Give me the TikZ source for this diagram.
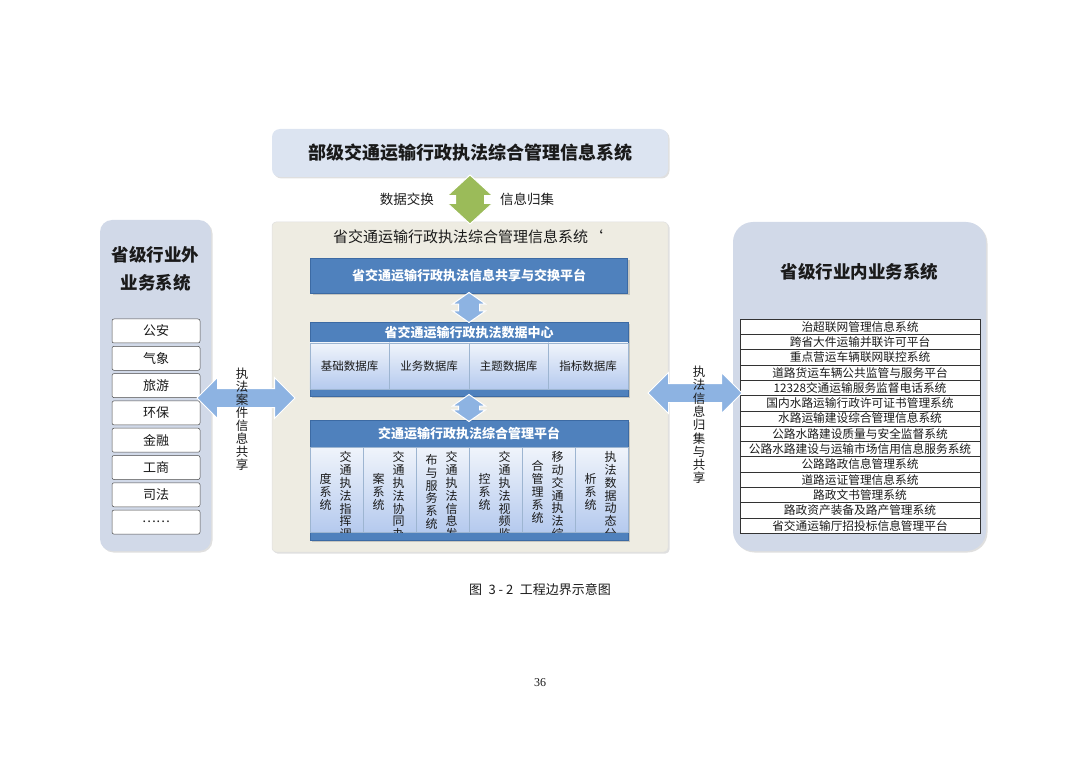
\documentclass[tikz,border=0pt]{standalone}
\usepackage{fontspec}
\setmainfont{Noto Sans CJK SC}
\newfontfamily\pagefont{Liberation Serif}
\usetikzlibrary{positioning, shapes.arrows, shadows, calc}
\definecolor{sysBlue}{HTML}{4F81BD}
\definecolor{sysBlueDark}{HTML}{3C6AA3}
\definecolor{sysPale}{HTML}{D1D9E8}
\definecolor{sysTop}{HTML}{DCE4F1}
\definecolor{sysTan}{HTML}{EEECE2}
\definecolor{sysArrow}{HTML}{8DB3E2}
\definecolor{sysGreen}{HTML}{9BBB59}
\definecolor{sysCellTop}{HTML}{F0F4FB}
\definecolor{sysCellBot}{HTML}{B5CAEE}
\definecolor{sysText}{HTML}{1A1A1A}

\begin{document}
\begin{tikzpicture}[x=1pt, y=-1pt,
  every node/.style={text=sysText, inner sep=0pt},
  panel/.style={rectangle, fill=sysPale, drop shadow={shadow xshift=1.5pt, shadow yshift=-1.5pt, opacity=0.25}},
  block/.style={rectangle, fill=sysBlue, draw=sysBlueDark, line width=0.4pt,
    drop shadow={shadow xshift=2pt, shadow yshift=-2pt, opacity=0.35}},
  bartext/.style={text=white, font=\fontsize{13}{15}\selectfont\bfseries},
  dbcell/.style={rectangle, draw=sysBlueDark!50, line width=0.4pt,
    top color=sysCellTop, bottom color=sysCellBot,
    minimum width=79.5pt, minimum height=46pt, font=\fontsize{11.5}{13}\selectfont},
  appcell/.style={rectangle, draw=sysBlueDark!50, line width=0.4pt,
    top color=sysCellTop, bottom color=sysCellBot, minimum width=53pt, minimum height=85pt},
  vtext/.style={align=center, font=\fontsize{12}{12.8}\selectfont},
  extitem/.style={rectangle, rounded corners=2pt, draw=black!70, line width=0.5pt, fill=white,
    minimum width=88pt, minimum height=24pt, font=\fontsize{13}{15}\selectfont},
  introw/.style={rectangle, draw=black!80, line width=0.5pt, fill=white,
    minimum width=240pt, minimum height=15.3pt, font=\fontsize{11.7}{13}\selectfont},
  flow/.style={double arrow, fill=sysArrow, draw=white, line width=1pt},
  upflow/.style={flow, rotate=90, inner xsep=0pt, inner ysep=10pt,
    double arrow head extend=6pt, double arrow tip angle=110},
]
\useasboundingbox (0,0) rectangle (1080,762);

% Ministry level system
\node[panel, rounded corners=8pt, fill=sysTop, minimum width=396pt, minimum height=48pt,
  font=\fontsize{18}{20}\selectfont\bfseries] (ministry) at (470,153) {部级交通运输行政执法综合管理信息系统};

% Provincial system
\node[rectangle, rounded corners=4pt, fill=sysTan, draw=black!12, line width=0.5pt,
  drop shadow={shadow xshift=1.5pt, shadow yshift=-1.5pt, opacity=0.25},
  minimum width=396pt, minimum height=330pt] (prov) at (470,387) {};
\node[font=\fontsize{15}{17}\selectfont] (provtitle) at (468,237) {省交通运输行政执法综合管理信息系统`};

% Exchange with ministry
\node[double arrow, rotate=90, fill=sysGreen, draw=white, line width=1pt,
  inner xsep=0pt, inner ysep=14pt, minimum height=49pt, double arrow head extend=8pt,
  double arrow tip angle=95]
  (xchg) at ($(ministry.south)!0.5!(prov.north)$) {};
\node[font=\fontsize{13.5}{15}\selectfont, left=36pt of xchg.center] (xleft) {数据交换};
\node[font=\fontsize{13.5}{15}\selectfont, right=30pt of xchg.center] (xright) {信息归集};

% Sharing platform
\node[block, minimum width=317pt, minimum height=35pt, bartext] (share) at (469,275.5) {省交通运输行政执法信息共享与交换平台};

% Data center
\node[block, minimum width=318pt, minimum height=74pt] (dc) at (469,359) {};
\node[bartext] (dctitle) at (469,332.5) {省交通运输行政执法数据中心};
\foreach \t [count=\i] in {基础数据库, 业务数据库, 主题数据库, 指标数据库}
  \node[dbcell] (db\i) at (349.5+79.5*\i-79.5, 366) {\t};

\node[upflow, minimum height=30pt] (a1) at ($(share.south)!0.5!(dc.north)$) {};

% Management platform
\node[block, minimum width=318pt, minimum height=120pt] (pl) at (469,480) {};
\node[bartext] (pltitle) at (469,433.5) {交通运输行政执法综合管理平台};
\foreach \i in {1,...,6}
  \node[appcell] (app\i) at (336.5+53*\i-53, 489.5) {};
\begin{scope}
  \clip (app1.north west) rectangle (app6.south east);
  \foreach \a/\b [count=\i] in {
      {交\\通\\执\\法\\指\\挥\\调}/{度\\系\\统},
      {交\\通\\执\\法\\协\\同\\办}/{案\\系\\统},
      {交\\通\\执\\法\\信\\息\\发}/{布\\与\\服\\务\\系\\统},
      {交\\通\\执\\法\\视\\频\\监}/{控\\系\\统},
      {移\\动\\交\\通\\执\\法\\综}/{合\\管\\理\\系\\统},
      {执\\法\\数\\据\\动\\态\\分}/{析\\系\\统}} {
    \node[vtext, anchor=north] (appa\i) at ($(app\i.center)+(9,-38)$) {\a};
    \node[vtext] (appb\i) at ($(app\i.center)+(-11,2.5)$) {\b};
  }
\end{scope}

\node[upflow, minimum height=27pt] (a2) at ($(dc.south)!0.5!(pl.north)$) {};

% Outside industry systems
\node[panel, rounded corners=12pt, minimum width=111pt, minimum height=331pt] (outer) at (155.5,385.5) {};
\node[align=center, font=\fontsize{17.5}{28}\selectfont\bfseries] (outertitle) at (155.5,269) {省级行业外\\业务系统};
\foreach \t [count=\i] in {公安, 气象, 旅游, 环保, 金融, 工商, 司法, {\ldots\ldots}}
  \node[extitem] (ext\i) at (156, 331+27.3*\i-27.3) {\t};

\node[flow, inner sep=9pt, minimum height=98pt, minimum width=40pt, double arrow head extend=11pt] (case) at (246,398) {};
\node[vtext, font=\fontsize{12.5}{13}\selectfont] (casetext) at (242,419) {执\\法\\案\\件\\信\\息\\共\\享};

% Inside industry systems
\node[panel, rounded corners=20pt, minimum width=253pt, minimum height=329pt] (inner) at (859.5,386.5) {};
\node[font=\fontsize{17.5}{20}\selectfont\bfseries] (innertitle) at (859.5,272) {省级行业内业务系统};
\foreach \t [count=\i] in {治超联网管理信息系统, 跨省大件运输并联许可平台, 重点营运车辆联网联控系统,
    道路货运车辆公共监管与服务平台, 12328交通运输服务监督电话系统, 国内水路运输行政许可证书管理系统,
    水路运输建设综合管理信息系统, 公路水路建设质量与安全监督系统, 公路水路建设与运输市场信用信息服务系统,
    公路路政信息管理系统, 道路运证管理信息系统, 路政文书管理系统, 路政资产装备及路产管理系统,
    省交通运输厅招投标信息管理平台}
  \node[introw] (int\i) at (860, 326.65+15.3*\i-15.3) {\t};

\node[flow, inner sep=9pt, minimum height=94pt, minimum width=40pt, double arrow head extend=11pt] (gather) at (695,393) {};
\node[vtext, font=\fontsize{12.5}{13.3}\selectfont] (gathertext) at (699,425) {执\\法\\信\\息\\归\\集\\与\\共\\享};

% Caption
\node[font=\fontsize{13}{15}\selectfont] (caption) at (540,590) {图\enspace 3 - 2\enspace 工程边界示意图};
\node[font=\fontsize{12}{14}\pagefont] (pageno) at (540,683) {36};

\end{tikzpicture}
\end{document}
